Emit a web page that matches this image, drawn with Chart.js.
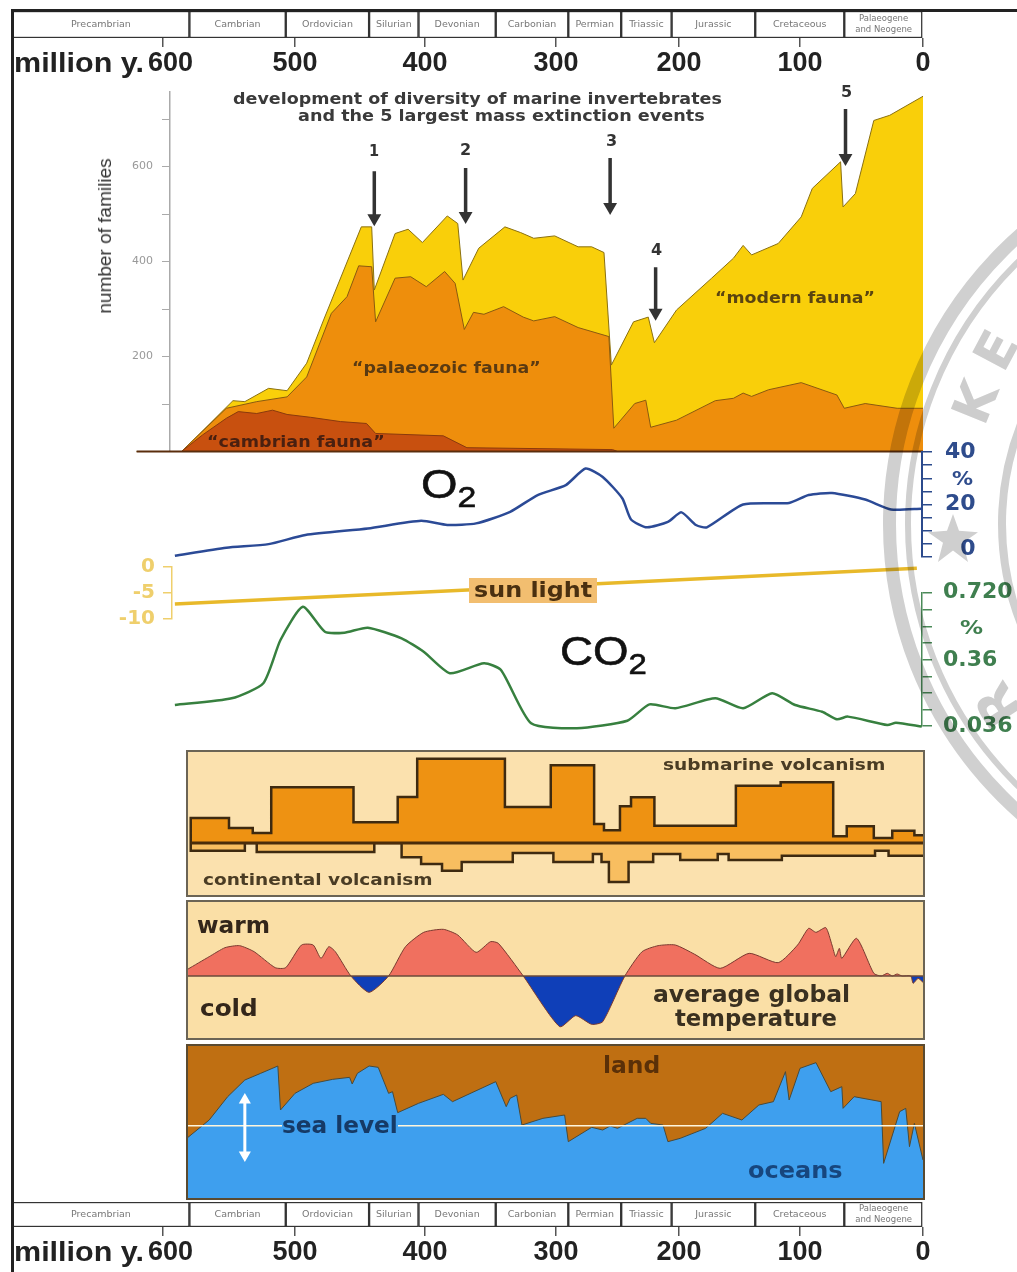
<!DOCTYPE html>
<html>
<head>
<meta charset="utf-8">
<title>Diversity of marine invertebrates and environmental history</title>
<script src="https://cdn.jsdelivr.net/npm/chart.js@4/dist/chart.umd.js"></script>
<style>
html,body{margin:0;padding:0;background:#fff}
#page{position:relative;width:1017px;height:1272px;overflow:hidden;background:#fff;filter:blur(.7px)}
#page canvas{position:absolute;left:0;top:0}
.lbl{position:absolute;white-space:nowrap;line-height:1;transform-origin:left center}
.lbl sub{font-size:.72em;line-height:0;vertical-align:-.32em}
.frame{position:absolute;background:#222}
#stamp{position:absolute;left:0;top:0;width:1017px;height:1272px;overflow:hidden;mix-blend-mode:multiply}
.ring{position:absolute;box-sizing:border-box;border-radius:50%;border-style:solid;border-color:#d0d0d0}
.stampText{position:absolute;font:bold 52px "DejaVu Sans";color:#cdcdcd;line-height:1}
</style>
</head>
<body>
<div id="page"></div>
<script>
/* ---------- data (ages in million years before present) ---------- */
const timeTicks = [600,500,400,300,200,100,0];
const periodNames = ["Precambrian","Cambrian","Ordovician","Silurian","Devonian","Carbonian","Permian","Triassic","Jurassic","Cretaceous","Palaeogene\nand Neogene"];
const periodStart = [714,580,507,443,405,346,290,247,206,137,64];
const periodEnd   = [580,507,443,405,346,290,247,206,137,64,0];

const totalAges = [620,586,572,547,538,520,506,491,478,449,441,439,423,413,402,383,375,371,359,339,327,317,301,282,271,261,255,237,225,220,202,173,155,147,140,118,99,90,67,65,55,40,27,0];
const totalFamilies = [0,0,38,107,105,133,128,186,277,473,473,340,459,468,440,496,480,361,428,473,461,449,454,431,431,419,182,273,283,229,298,365,407,434,414,438,494,554,610,515,543,697,708,748];
const palaeozoicAges = [586,552,529,506,491,472,460,451,441,438,423,411,399,385,377,370,363,355,340,325,317,301,282,257,253,236,227,223,202,170,155,147,140,126,99,70,64,47,21,0];
const palaeozoicTop = [0,91,105,115,157,291,326,391,389,273,365,368,347,379,354,257,293,289,305,283,275,284,261,242,49,101,108,51,66,107,112,123,116,130,145,119,91,101,91,91];
const cambrianAges = [586,570,552,543,529,517,506,488,465,445,438,386,368,254,250];
const cambrianTop = [0,35,70,84,80,87,78,72,63,59,38,33,8,4,0];
const baselineAges = [620,0];
const baselineValues = [0,0];
const familyTicks = [100,200,300,400,500,600,700];
const extinctionAges = [439,369,256,219,63];
const extinctionArrowTop = [590,597,618,388,721];
const extinctionArrowTip = [491,496,515,292,618];

const o2Ages = [591,552,520,492,444,403,383,361,335,314,292,276,262,246,239,226,209,198,186,177,147,109,93,74,47,26,1];
const o2Percent = [0.5,3.5,4.9,8.4,10.9,13.8,12.2,12.8,17.2,23.6,27.4,33.7,30.5,22.3,14.3,11.3,13.4,17,12.2,11.3,20,20.6,23.6,24.4,21.9,18.1,18.4];
const o2Ticks = [0,5,10,15,20,25,30,35,40];

const sunAges = [591,300,5];
const sunPercent = [-7.1,-3.6,-0.25];
const sunTicks = [-10,-5,0];

const co2Ages = [591,548,524,511,494,477,462,444,418,401,381,355,342,319,283,242,224,203,170,147,123,104,82,70,61,29,22,1];
const co2Percent = [.139,.172,.246,.467,.645,.511,.506,.533,.476,.404,.295,.344,.311,.049,.025,.062,.142,.123,.172,.123,.197,.139,.106,.069,.082,.041,.052,.033];
const co2Ticks = [.72,.63,.54,.45,.36,.279,.198,.117,.036];
const co2Labelled = {0.72:"0.720",0.36:"0.36",0.036:"0.036"};

const submarineAges = [579,579,550,532,518,455,421,406,339,304,269,261,248,239,220,153,116,73,62,40,25,7,0];
const submarineLevels = [0,75,45,30,167,62,138,253,108,233,57,38,110,137,52,172,182,20,50,15,37,23,23];
const continentalAges = [579,579,538,529,439,418,403,387,372,333,302,270,263,257,241,221,199,168,159,115,39,28,0];
const continentalLevels = [0,-23,0,-27,0,-43,-63,-83,-57,-30,-57,-33,-57,-117,-57,-33,-51,-33,-51,-38,-23,-38,-38];

const temperatureAges = [581,565,553,542,531,515,507,495,486,480,474,469,457,443,428,415,401,386,375,361,350,344,325,297,284,271,262,244,230,217,203,187,166,142,118,102,93,87,79,74,71,68,66,54,40,34,29,25,21,17,10,8,4,0];
const temperatureAnomaly = [21,58,85,91,73,25,25,93,93,53,88,73,0,-49,0,88,131,140,123,71,103,98,0,-152,-119,-145,-137,0,73,91,93,65,23,68,40,93,143,131,145,93,58,83,53,113,8,0,8,0,6,0,0,-22,-7,-19];

const seaAges = [582,565,551,538,526,513,511,500,486,471,458,456,452,443,436,428,425,421,405,386,379,368,346,338,335,330,326,310,293,290,271,262,256,250,234,227,223,213,209,199,178,164,148,134,122,112,109,100,87,75,66,65,56,34,32,19,14,11,7,0];
const seaLevel = [-38,17,87,137,157,179,47,97,127,139,145,125,157,179,175,97,102,39,67,94,72,92,132,57,82,92,2,22,32,-48,-5,-13,-1,-8,22,22,7,2,-48,-38,-8,37,17,62,72,162,77,172,189,102,117,52,87,72,-113,42,52,-63,7,-103];
const seaArrowAge = [538,538];
const seaArrowRange = [77,-88];

/* ---------- the printed time axis is not quite even: it is fitted through its own tick marks ---------- */
const axisAges = [600,500,400,300,200,100,0];
const axisPixels = [163,295,425,556,679,800,923];
const co2AxisValues = [.72,.36,.036];
const co2AxisPixels = [592.7,660,726];

function interp(v,xs,ys){
  let i=0; while(i<xs.length-2 && v<xs[i+1]) i++;
  return ys[i]+(v-xs[i])*(ys[i+1]-ys[i])/(xs[i+1]-xs[i]);
}
class FittedScale extends Chart.LinearScale{
  static id='fitted';
  static defaults=Chart.LinearScale.defaults;
  getPixelForValue(v){
    return this.axis==='x'?interp(v,axisAges,axisPixels):interp(v,co2AxisValues,co2AxisPixels);
  }
}
const panelPlugin={
  id:'panel',
  beforeDraw(c,_,o){
    if(!o.fill)return;
    const a=c.chartArea;c.ctx.save();c.ctx.fillStyle=o.fill;c.ctx.fillRect(a.left,a.top,a.width,a.height);c.ctx.restore();
  },
  afterDraw(c,_,o){
    if(!o.stroke)return;
    const a=c.chartArea;c.ctx.save();c.ctx.strokeStyle=o.stroke;c.ctx.lineWidth=2;c.ctx.strokeRect(a.left,a.top,a.width,a.height);c.ctx.restore();
  }
};
const periodLabelPlugin={
  id:'periodLabels',
  afterDatasetsDraw(c,_,o){
    if(!o.on)return;
    const a=c.chartArea,x=c.scales.x,ctx=c.ctx;
    ctx.save();ctx.fillStyle='#777';ctx.textAlign='center';ctx.textBaseline='middle';
    periodNames.forEach((n,i)=>{
      const cx=(x.getPixelForValue(periodStart[i])+x.getPixelForValue(periodEnd[i]))/2;
      const lines=n.split('\n');
      ctx.font=(lines.length>1?'8.5px':'9.5px')+' "DejaVu Sans"';
      lines.forEach((t,k)=>ctx.fillText(t,cx,(a.top+a.bottom)/2+(k-(lines.length-1)/2)*11));
    });
    ctx.restore();
  }
};
Chart.register(FittedScale,panelPlugin,periodLabelPlugin);

const W=1017,H=1272,page=document.getElementById('page');
const zip=(xs,ys)=>xs.map((x,i)=>({x,y:ys[i]}));
const xHidden={type:'fitted',min:0,max:714,display:false};
function chart(area,datasets,scales,panel){
  const cv=document.createElement('canvas');cv.width=W;cv.height=H;cv.style.width=W+'px';cv.style.height=H+'px';page.appendChild(cv);
  return new Chart(cv,{type:area.type||'line',data:{labels:area.labels,datasets},options:{
    responsive:false,animation:false,devicePixelRatio:1,
    layout:{padding:{left:area.left-(area.axisLeft||0),right:W-area.right-(area.axisRight||0),top:area.top,bottom:H-area.bottom-(area.axisBottom||0)}},
    indexAxis:area.indexAxis||'x',
    elements:{point:{radius:0},line:{tension:0}},
    plugins:{legend:{display:false},tooltip:{enabled:false},panel:panel||{},periodLabels:area.periodLabels||{}},
    scales
  }});
}
function line(ages,vals,color,width,extra){
  return Object.assign({data:zip(ages,vals),borderColor:color,borderWidth:width,clip:false,fill:false},extra||{});
}

/* ---------- geological period rulers with time axis ---------- */
function ruler(top,bottom){
  chart({type:'bar',labels:['Periods'],indexAxis:'y',left:13,right:923,top,bottom,axisBottom:40,periodLabels:{on:true}},
    periodNames.map((n,i)=>({label:n,data:[[periodEnd[i],periodStart[i]]],backgroundColor:'#fff',borderColor:'#333',borderWidth:1.5,borderSkipped:false,grouped:false,barPercentage:1,categoryPercentage:1})),
    {x:{type:'fitted',min:0,max:714,position:'bottom',
        afterFit:s=>{s.height=40},
        afterBuildTicks:s=>{s.ticks=timeTicks.map(value=>({value}))},
        border:{display:false},
        grid:{drawOnChartArea:false,drawTicks:true,tickLength:9,color:'#555',lineWidth:1.5},
        ticks:{autoSkip:false,maxRotation:0,minRotation:0,padding:0,color:'#222',font:{family:'"Liberation Sans"',size:27,weight:'bold'},callback:v=>v===600?'  600':String(v)}},
     y:{type:'category',display:false}});
}
ruler(11,38);
ruler(1202,1227);

/* ---------- marine diversity ---------- */
const arrows=extinctionAges.map((a,i)=>line([a,a],[extinctionArrowTop[i],extinctionArrowTip[i]],'#333',3.5,{pointRadius:[0,4.5],pointStyle:'triangle',pointRotation:[180,180],pointBackgroundColor:'#333',pointBorderColor:'#333'}));
chart({left:170,right:923,top:92,bottom:451.5,axisLeft:80},
  [...arrows,
   line(baselineAges,baselineValues,'#5a2d0c',2),
   line(cambrianAges,cambrianTop,'#8a3a0c',1,{fill:'origin',backgroundColor:'#C8500F'}),
   line(palaeozoicAges,palaeozoicTop,'#8a5a10',1,{fill:'origin',backgroundColor:'#EE8E0C'}),
   line(totalAges,totalFamilies,'#8a7010',1,{fill:'origin',backgroundColor:'#F9CF0A'})],
  {x:xHidden,
   y:{type:'linear',min:0,max:757,position:'left',afterFit:s=>{s.width=80},
      afterBuildTicks:s=>{s.ticks=familyTicks.map(value=>({value}))},
      border:{color:'#aaa',width:1.5},
      grid:{drawOnChartArea:false,drawTicks:true,tickLength:8,color:'#aaa'},
      ticks:{autoSkip:false,padding:9,color:'#999',font:{family:'"DejaVu Sans"',size:11},callback:v=>v%200===0?String(v):''}}});

/* ---------- O2 ---------- */
const o2Font={family:'"DejaVu Sans"',size:22,weight:'bold'};
chart({left:175,right:922,top:452,bottom:557,axisRight:95},
  [line(o2Ages,o2Percent,'#2B4A96',2.5,{tension:.2})],
  {x:xHidden,
   y:{type:'linear',min:0,max:40,position:'right',afterFit:s=>{s.width=95},
      afterBuildTicks:s=>{s.ticks=o2Ticks.map(value=>({value}))},
      border:{color:'#2B4A8C',width:2},
      grid:{drawOnChartArea:false,drawTicks:true,tickLength:10,color:'#2B4A8C',lineWidth:1.5},
      ticks:{autoSkip:false,padding:13,color:'#2F4C8C',
             font:c=>c.tick&&c.tick.value===0?Object.assign({lineHeight:.7},o2Font):o2Font,
             callback:v=>v===0?['  0','']:(v%20===0?String(v):'')}}});

/* ---------- sun light ---------- */
chart({left:172,right:916,top:567,bottom:619,axisLeft:80},
  [line(sunAges,sunPercent,'#E8B92A',3.5)],
  {x:xHidden,
   y:{type:'linear',min:-10,max:0,position:'left',afterFit:s=>{s.width=80},
      afterBuildTicks:s=>{s.ticks=sunTicks.map(value=>({value}))},
      border:{color:'#EFCF6C',width:1.5},
      grid:{drawOnChartArea:false,drawTicks:true,tickLength:9,color:'#EFCF6C',lineWidth:1.5},
      ticks:{autoSkip:false,padding:8,color:'#EFCF6C',font:{family:'"DejaVu Sans"',size:20,weight:'bold'},callback:v=>String(v)}}});

/* ---------- CO2 ---------- */
chart({left:175,right:922,top:592.7,bottom:726,axisRight:95},
  [line(co2Ages,co2Percent,'#37803F',2.5,{tension:.2})],
  {x:xHidden,
   y:{type:'fitted',min:.036,max:.72,position:'right',afterFit:s=>{s.width=95},
      afterBuildTicks:s=>{s.ticks=co2Ticks.map(value=>({value}))},
      border:{color:'#4A8A58',width:1.5},
      grid:{drawOnChartArea:false,drawTicks:true,tickLength:10,color:'#4A8A58',lineWidth:1.5},
      ticks:{autoSkip:false,padding:11,color:'#3F7F4F',font:{family:'"DejaVu Sans"',size:22,weight:'bold'},callback:v=>co2Labelled[v]||''}}});

/* ---------- volcanism ---------- */
chart({left:187,right:924,top:751,bottom:896},
  [line([579,0],[0,0],'#4A2C0A',3),
   line(submarineAges,submarineLevels,'#3E2A10',2.5,{stepped:true,fill:'origin',backgroundColor:'#EE9212'}),
   line(continentalAges,continentalLevels,'#3E2A10',2.5,{stepped:true,fill:'origin',backgroundColor:'#F8BE60'})],
  {x:xHidden,y:{type:'linear',min:-159,max:276,display:false}},
  {fill:'#FBE1AE',stroke:'#6B6455'});

/* ---------- temperature ---------- */
chart({left:187,right:924,top:901,bottom:1039},
  [line([582,0],[0,0],'#6B4A3A',1.5),
   line(temperatureAges,temperatureAnomaly,'#7A3A30',1,{tension:.2,fill:{target:'origin',above:'#F0705F',below:'#0F3FB8'}})],
  {x:xHidden,y:{type:'linear',min:-189,max:225,display:false}},
  {fill:'#FADFA6',stroke:'#6B6455'});

/* ---------- sea level ---------- */
chart({left:187,right:924,top:1045,bottom:1199},
  [line(seaArrowAge,seaArrowRange,'#FFFFFF',3,{pointRadius:4,pointStyle:'triangle',pointRotation:[0,180],pointBackgroundColor:'#fff',pointBorderColor:'#fff'}),
   line([582,0],[0,0],'#FFF6DC',1.5),
   line(seaAges,seaLevel,'#4A4A3A',1,{fill:'start',backgroundColor:'#3E9FEE'})],
  {x:xHidden,y:{type:'linear',min:-220,max:242,display:false}},
  {fill:'#BF6F12',stroke:'#5A4A30'});

/* ---------- real text labels ---------- */
function label(html,x0,x1,cy,size,color,font,bg){
  const d=document.createElement('div');d.className='lbl';d.innerHTML=html;
  d.style.font=font||('bold '+size+'px "DejaVu Sans"');d.style.lineHeight='1';d.style.color=color;
  d.style.left=x0+'px';d.style.top=(cy-size/2)+'px';
  page.appendChild(d);
  d.style.transform='scaleX('+((x1-x0)/d.offsetWidth).toFixed(3)+')';
  return d;
}
const ink='#3A3A3A';
label('million y.',14,144,63,27,'#222','bold 27px "Liberation Sans"');
label('million y.',14,144,1252,27,'#222','bold 27px "Liberation Sans"');
label('development of diversity of marine invertebrates',233,722,99,16,ink);
label('and the 5 largest mass extinction events',298,705,116,16,ink);
[['1',369,379,151],['2',460,471,150],['3',606,617,141],['4',651,662,250],['5',841,852,92]].forEach(a=>label(a[0],a[1],a[2],a[3],16,'#333'));
label('&#8220;palaeozoic fauna&#8221;',352,541,368,15,'#5A3A12');
label('&#8220;cambrian fauna&#8221;',207,385,442,15,'#4A2010');
label('&#8220;modern fauna&#8221;',715,875,298,15,'#5A4410');
const nf=document.createElement('div');nf.className='lbl';nf.textContent='number of families';
nf.style.cssText='font:19px "Liberation Sans";color:#333;left:105px;top:236px;transform:translate(-50%,-50%) rotate(-90deg);transform-origin:center';
page.appendChild(nf);
const sun=document.createElement('div');sun.style.cssText='position:absolute;left:469px;top:578px;width:128px;height:25px;background:#F2BE70';page.appendChild(sun);
label('sun light',474,592,590,22,'#4A3010');
label('O<sub>2</sub>',421,476,484,41,'#111','41px "Liberation Sans"').style.webkitTextStroke='.6px #111';
label('CO<sub>2</sub>',560,647,651,41,'#111','41px "Liberation Sans"').style.webkitTextStroke='.6px #111';
label('%',952,973,478,20,'#2F4C8C');
label('%',960,983,627,20,'#3F7F4F');
label('submarine volcanism',663,885,765,16,'#4A3C24');
label('continental volcanism',203,432,880,16,'#4A3C24');
label('warm',197,270,925,23,'#33261A');
label('cold',200,258,1008,23,'#33261A');
label('average global',653,850,994,23,'#3A3020');
label('temperature',675,837,1018,23,'#3A3020');
const sl=document.createElement('div');sl.style.cssText='position:absolute;left:282px;top:1116px;width:116px;height:20px;background:#3E9FEE';page.appendChild(sl);
label('sea level',282,398,1125,23,'#163A66');
label('land',603,660,1065,23,'#5A3008');
label('oceans',748,843,1170,23,'#17467E');

/* ---------- page frame and stamp ---------- */
[['left:11px;top:9px;width:3px;height:1263px'],['left:11px;top:9px;width:1006px;height:3px']].forEach(s=>{
  const f=document.createElement('div');f.className='frame';f.style.cssText=s[0];page.appendChild(f);
});
const stamp=document.createElement('div');stamp.id='stamp';page.appendChild(stamp);
[[392,13],[370,6],[277,8]].forEach(r=>{
  const d=document.createElement('div');d.className='ring';
  d.style.cssText='left:'+(1275-r[0])+'px;top:'+(524-r[0])+'px;width:'+(2*r[0])+'px;height:'+(2*r[0])+'px;border-width:'+r[1]+'px';
  stamp.appendChild(d);
});
const star=document.createElement('div');
star.style.cssText='position:absolute;left:928px;top:514px;width:50px;height:48px;background:#cfcfcf;clip-path:polygon(50% 0,62% 35%,100% 38%,70% 60%,80% 100%,50% 76%,20% 100%,30% 60%,0 38%,38% 35%)';
stamp.appendChild(star);
[['K',975,402,-68],['E',996,350,-62],['R',998,705,-123]].forEach(t=>{
  const d=document.createElement('div');d.className='stampText';d.textContent=t[0];
  d.style.left=t[1]+'px';d.style.top=t[2]+'px';d.style.transform='translate(-50%,-50%) rotate('+t[3]+'deg)';
  stamp.appendChild(d);
});
</script>
</body>
</html>
